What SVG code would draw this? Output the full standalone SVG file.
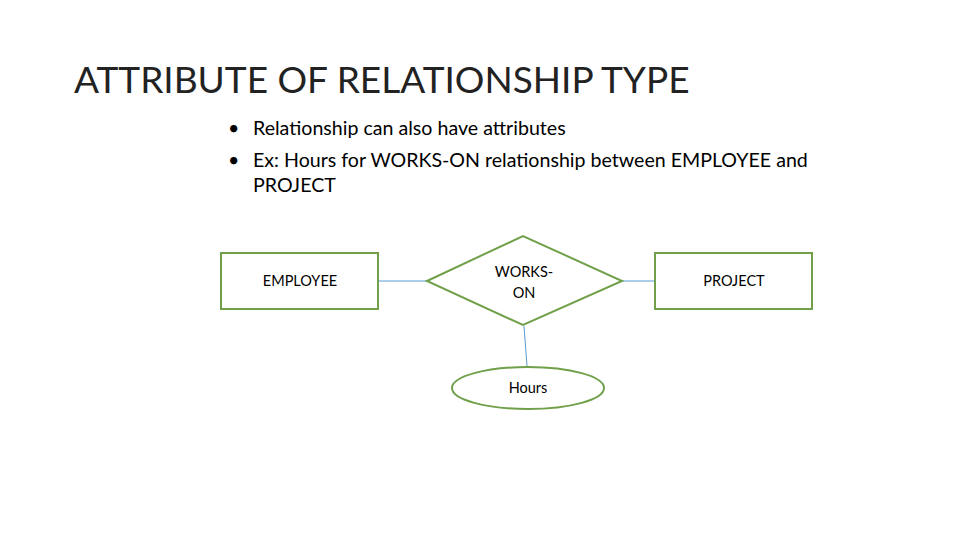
<svg xmlns="http://www.w3.org/2000/svg" width="960" height="540" viewBox="0 0 960 540">
<style>
text{font-family:Lato,"Open Sans","Liberation Sans",sans-serif;fill:#000}
.t{font-size:37px;fill:#222}
.b{font-size:19.6px}
.n{font-size:14.5px;text-anchor:middle}
.s{fill:#fff;stroke:#70a04a;stroke-width:2}
.c{stroke:#5b9bd5;stroke-width:1}
</style>
<rect width="960" height="540" fill="#fff"/>
<text class="t" x="74" y="93">ATTRIBUTE OF RELATIONSHIP TYPE</text>
<text class="b" x="228" y="135">•</text><text class="b" x="253" y="135">Relationship can also have attributes</text>
<text class="b" x="228" y="167">•</text><text class="b" x="253" y="167">Ex: Hours for WORKS-ON relationship between EMPLOYEE and</text>
<text class="b" x="253" y="192">PROJECT</text>
<g id="connectors">
<line class="c" x1="379" y1="281" x2="427" y2="281"/>
<line class="c" x1="622" y1="281" x2="654" y2="281"/>
<line class="c" x1="524" y1="326" x2="527" y2="366"/>
</g>
<g id="employee"><rect class="s" x="221" y="253" width="157" height="56"/><text class="n" x="300" y="286">EMPLOYEE</text></g>
<g id="workson"><polygon class="s" points="427,281 523,236 622,281 523,325"/><text class="n" x="524" y="277">WORKS-</text><text class="n" x="524" y="298">ON</text></g>
<g id="project"><rect class="s" x="655" y="253" width="157" height="56"/><text class="n" x="734" y="286">PROJECT</text></g>
<g id="hours"><ellipse class="s" cx="528" cy="388" rx="76" ry="21"/><text class="n" x="528" y="393">Hours</text></g>
</svg>
